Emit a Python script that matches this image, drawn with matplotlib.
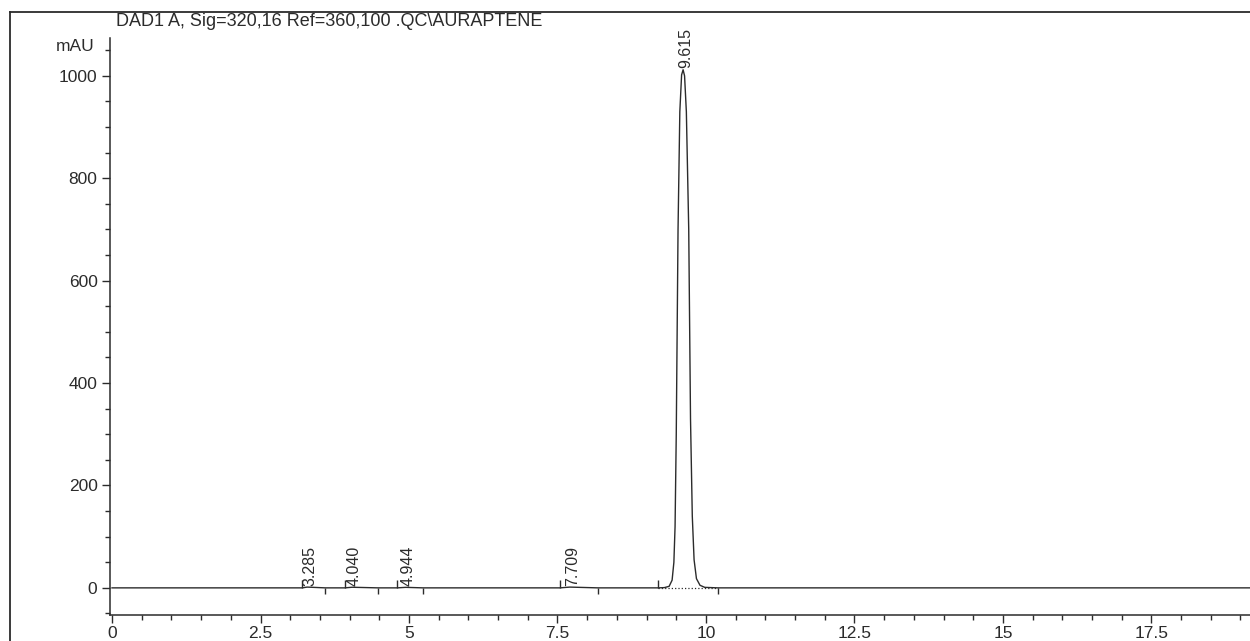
import matplotlib
matplotlib.use("Agg")
import matplotlib.pyplot as plt
from matplotlib.lines import Line2D
from matplotlib.ticker import MultipleLocator
import numpy as np

plt.rcParams['font.family'] = ['Liberation Sans', 'DejaVu Sans']

# signal trace (min, mAU)
time = [0.0, 3.20, 3.285, 3.59, 3.92, 4.04, 4.48, 4.80, 4.944, 5.24,
        7.54, 7.709, 8.18, 9.19, 9.30, 9.38, 9.43, 9.46, 9.48, 9.50,
        9.53, 9.56, 9.59, 9.615, 9.64, 9.67, 9.71, 9.74, 9.77, 9.80,
        9.84, 9.90, 9.98, 10.20, 19.2]
signal = [0, 0, 1.5, 0, 0, 1.2, 0, 0, 1.0, 0,
          0, 1.5, 0, 0, 0.5, 3, 15, 50, 120, 300,
          700, 930, 1002, 1012, 1000, 930, 700, 330, 140, 55,
          18, 5, 1, 0, 0]

# integration results
peak_rt = [3.285, 4.040, 4.944, 7.709, 9.615]
peak_names = ["3.285", "4.040", "4.944", "7.709", "9.615"]
peak_start = [3.20, 3.92, 4.80, 7.54, 9.19]
peak_end = [3.59, 4.48, 5.24, 8.18, 10.20]

title = "DAD1 A, Sig=320,16 Ref=360,100 .QC\\AURAPTENE"
ink = "#2b2b2b"

fig = plt.figure(figsize=(12.5, 6.41), dpi=100)
ax = fig.add_axes([110 / 1250, 1 - 615 / 641, 1 - 110 / 1250, (615 - 38) / 641])

ax.plot(time, signal, color=ink, lw=1.0)

# baseline markers
ax.vlines(peak_start, 0, 15, color=ink, lw=1.0)
ax.vlines(peak_end, -12, 0, color=ink, lw=1.0)
ax.hlines(0, peak_start[-1], peak_end[-1], color=ink, lw=0.9, linestyles=":")

for rt, name in zip(peak_rt, peak_names):
    y = np.interp(rt, time, signal) + 3
    ax.text(rt + 0.04, y, name, rotation=90, ha="center", va="bottom",
            fontsize=11.5, color=ink)

ax.set_xlim(-0.034, 19.16)
ax.set_ylim(-53, 1074)

ax.spines["top"].set_visible(False)
ax.spines["right"].set_visible(False)
for s in ("left", "bottom"):
    ax.spines[s].set_color(ink)
    ax.spines[s].set_linewidth(1.1)

ax.xaxis.set_minor_locator(MultipleLocator(0.5))
ax.set_xticks([0, 2.5, 5, 7.5, 10, 12.5, 15, 17.5])
ax.set_xticklabels(["0", "2.5", "5", "7.5", "10", "12.5", "15", "17.5"])
ax.set_yticks([0, 200, 400, 600, 800, 1000])
ax.yaxis.set_minor_locator(MultipleLocator(50))

ax.tick_params(axis="both", which="major", direction="out", length=6,
               width=1, colors=ink, labelsize=12.5)
ax.tick_params(axis="both", which="minor", direction="out", length=3.5,
               width=1, colors=ink)
ax.tick_params(axis="y", which="major", pad=3)
ax.tick_params(axis="x", which="major", pad=2)

ax.annotate("mAU", xy=(0, 1057), xycoords=ax.get_yaxis_transform(),
            xytext=(-15, 0), textcoords="offset pixels",
            ha="right", va="center", fontsize=12.5, color=ink)

# page frame of the printout
fig.add_artist(Line2D([10 / 1250, 10 / 1250], [0, 1 - 12 / 641],
                      transform=fig.transFigure, color=ink, lw=1.3))
fig.add_artist(Line2D([10 / 1250, 1], [1 - 12 / 641, 1 - 12 / 641],
                      transform=fig.transFigure, color=ink, lw=1.3))
fig.text(116 / 1250, 1 - 21 / 641, title, ha="left", va="center",
         fontsize=13, color=ink)

fig.savefig("out.png", dpi=100)
